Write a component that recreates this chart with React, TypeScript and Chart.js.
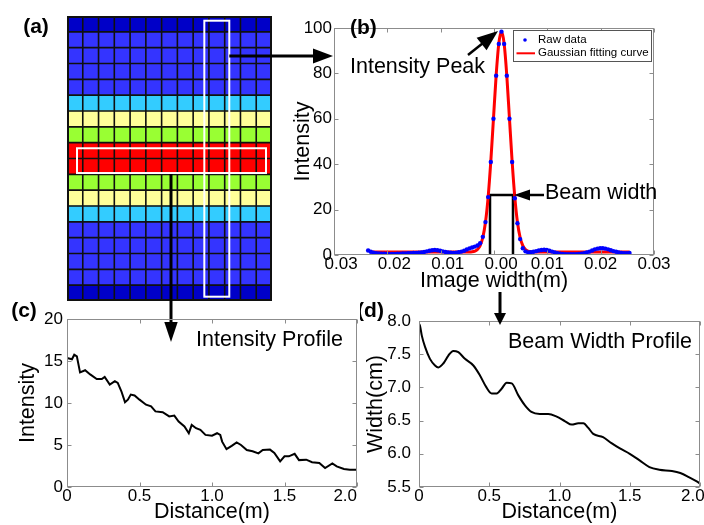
import { useEffect, useRef } from 'react';
import { Chart, registerables } from 'chart.js';

Chart.register(...registerables);

const FONT = 'Arial, "Liberation Sans", Helvetica, sans-serif';
const AXIS_GRAY = '#8c8c8c';
const TICK_SIZE = 17;
const TITLE_SIZE = 21.5;

// ---------- (a) intensity map ----------
const gridColumns = ['1', '2', '3', '4', '5', '6', '7', '8', '9', '10', '11', '12', '13'];
// colour level of each row, top to bottom
const rowLevels = [1, 2, 2, 2, 2, 3, 4, 5, 6, 6, 5, 4, 3, 2, 2, 2, 2, 1];
const levelColors = ['#ffffff', '#0000c8', '#3434ff', '#33ccff', '#ffff99', '#99ff33', '#ff0000'];
const highlightColumn = 9;
const highlightRows = [8, 9];

// ---------- (b) transverse profile ----------
const rawStart = -0.0236;
const rawStep = 0.0005;
const rawIntensity = [
  2.0, 1.4, 1.0, 0.8, 0.7, 0.6, 0.6, 0.5, 0.5, 0.5,
  0.5, 0.6, 0.6, 0.7, 0.7, 0.8, 0.8, 0.9, 0.9, 1.0,
  1.1, 1.3, 1.6, 1.9, 2.1, 2.2, 2.1, 1.9, 1.6, 1.3,
  1.1, 1.0, 0.9, 1.0, 1.2, 1.5, 1.9, 2.4, 2.9, 3.3,
  3.7, 4.2, 5.2, 8.0, 14.5, 25.5, 41.0, 60.0, 79.0, 93.0,
  98.4, 93.0, 79.0, 60.0, 41.0, 25.0, 14.0, 7.0, 3.0, 1.6,
  1.1, 1.2, 1.4, 1.7, 2.0, 2.2, 2.3, 2.2, 1.9, 1.5,
  1.1, 0.8, 0.6, 0.5, 0.4, 0.3, 0.3, 0.3, 0.4, 0.5,
  0.6, 0.8, 1.1, 1.5, 2.0, 2.5, 2.8, 3.0, 3.0, 2.8,
  2.5, 2.1, 1.7, 1.4, 1.1, 0.9, 0.8, 0.8, 0.9,
];
const fitIntensity = [
  null, 1.3, 1.3, 1.3, 1.3, 1.3, 1.3, 1.3, 1.3, 1.3,
  1.3, 1.3, 1.3, 1.3, 1.3, 1.3, 1.3, 1.3, 1.3, 1.3,
  1.3, 1.3, 1.3, 1.3, 1.3, 1.3, 1.3, 1.3, 1.3, 1.3,
  1.3, 1.3, 1.3, 1.3, 1.3, 1.3, 1.3, 1.3, 1.3, 1.4,
  1.7, 2.4, 4.1, 7.7, 14.4, 25.5, 41.2, 60.1, 79.0, 93.1,
  98.3, 93.1, 79.0, 60.1, 41.2, 25.5, 14.4, 7.7, 4.1, 2.4,
  1.7, 1.4, 1.3, 1.3, 1.3, 1.3, 1.3, 1.3, 1.3, 1.3,
  1.3, 1.3, 1.3, 1.3, 1.3, 1.3, 1.3, 1.3, 1.3, 1.3,
  1.3, 1.3, 1.3, 1.3, 1.3, 1.3, 1.3, 1.3, 1.3, 1.3,
  1.3, 1.3, 1.3, 1.3, 1.3, 1.3, 1.3, 1.3, 1.3,
];
const beamEdges = [-0.00075, 0.00356];
const beamLevel = 26.4;
const imageWidthTicks = [-0.03, -0.02, -0.01, 0, 0.01, 0.02, 0.03];
const intensityTicksB = [0, 20, 40, 60, 80, 100];

// ---------- (c) intensity along the path ----------
const distanceC = [
  0, 0.034, 0.05, 0.068, 0.09, 0.125, 0.16, 0.205, 0.24, 0.26,
  0.295, 0.33, 0.35, 0.375, 0.4, 0.42, 0.44, 0.466, 0.5, 0.545,
  0.58, 0.61, 0.66, 0.705, 0.74, 0.77, 0.81, 0.84, 0.86, 0.89,
  0.92, 0.955, 1.0, 1.035, 1.057, 1.07, 1.1, 1.136, 1.17, 1.2,
  1.24, 1.28, 1.32, 1.35, 1.4, 1.43, 1.47, 1.5, 1.53, 1.57,
  1.6, 1.65, 1.69, 1.74, 1.78, 1.83, 1.86, 1.91, 1.95, 1.98, 2.0,
];
const intensityC = [
  15.36, 15.2, 15.75, 15.55, 13.65, 13.9, 13.4, 12.85, 12.85, 13.1,
  12.2, 12.6, 12.4, 11.4, 10.1, 10.4, 11.0, 10.9, 10.4, 9.8,
  9.6, 9.0, 8.9, 8.4, 8.5, 7.8, 7.2, 6.4, 7.4, 7.0,
  6.8, 6.2, 6.1, 6.4, 6.2, 5.4, 4.5, 4.9, 5.3, 5.0,
  4.4, 4.25, 4.0, 4.4, 4.45, 4.05, 3.05, 3.65, 3.65, 3.95,
  3.2, 3.25, 2.95, 2.85, 2.25, 2.8, 2.45, 2.15, 2.05, 2.05, 2.05,
];
const distanceTicks = [0, 0.5, 1, 1.5, 2];
const intensityTicksC = [0, 5, 10, 15, 20];

// ---------- (d) beam width along the path ----------
const distanceD = [
  0, 0.007, 0.02, 0.043, 0.078, 0.114, 0.138, 0.173, 0.209, 0.244,
  0.28, 0.327, 0.387, 0.434, 0.48, 0.517, 0.553, 0.588, 0.624, 0.66,
  0.707, 0.754, 0.8, 0.86, 0.92, 0.98, 1.04, 1.087, 1.134, 1.17,
  1.205, 1.24, 1.31, 1.37, 1.43, 1.5, 1.57, 1.64, 1.71, 1.8,
  1.86, 1.92, 1.98, 2.0,
];
const widthD = [
  7.96, 7.93, 7.78, 7.61, 7.43, 7.33, 7.3, 7.36, 7.48, 7.55,
  7.53, 7.43, 7.33, 7.18, 7.0, 6.91, 6.91, 6.98, 7.07, 7.06,
  6.88, 6.73, 6.63, 6.6, 6.6, 6.56, 6.49, 6.44, 6.46, 6.46,
  6.39, 6.3, 6.25, 6.16, 6.08, 6.0, 5.9, 5.8, 5.76, 5.74,
  5.71, 5.65, 5.58, 5.55,
];
const widthTicksD = [5.5, 6, 6.5, 7, 7.5, 8];

// ---------- helpers ----------
const toPoints = (xs: number[], ys: (number | null)[]) =>
  xs.map((x, i) => ({ x, y: ys[i] })).filter((p) => p.y !== null);

function drawArrow(ctx: any, x1: number, y1: number, x2: number, y2: number, headLen: number, headHalf: number, lw: number) {
  const ang = Math.atan2(y2 - y1, x2 - x1);
  const bx = x2 - headLen * Math.cos(ang);
  const by = y2 - headLen * Math.sin(ang);
  ctx.save();
  ctx.strokeStyle = '#000';
  ctx.fillStyle = '#000';
  ctx.lineWidth = lw;
  ctx.beginPath();
  ctx.moveTo(x1, y1);
  ctx.lineTo(bx + Math.cos(ang), by + Math.sin(ang));
  ctx.stroke();
  ctx.beginPath();
  ctx.moveTo(x2, y2);
  ctx.lineTo(bx + headHalf * Math.sin(ang), by - headHalf * Math.cos(ang));
  ctx.lineTo(bx - headHalf * Math.sin(ang), by + headHalf * Math.cos(ang));
  ctx.closePath();
  ctx.fill();
  ctx.restore();
}

function drawText(ctx: any, str: string, x: number, y: number, size: number, align = 'left', bold = false) {
  ctx.save();
  ctx.font = `${bold ? 'bold ' : ''}${size}px ${FONT}`;
  ctx.fillStyle = '#000';
  ctx.textAlign = align;
  ctx.textBaseline = 'middle';
  ctx.fillText(str, x, y);
  ctx.restore();
}

const boxPlugin = {
  id: 'matlabBox',
  afterDraw(chart: any) {
    const { ctx, chartArea: a } = chart;
    const xs = chart.scales.x;
    const ys = chart.scales.y;
    const l = Math.round(a.left) + 0.5;
    const r = Math.round(a.right) - 0.5;
    const t = Math.round(a.top) + 0.5;
    const b = Math.round(a.bottom) - 0.5;
    ctx.save();
    ctx.strokeStyle = AXIS_GRAY;
    ctx.lineWidth = 1;
    ctx.strokeRect(l, t, r - l, b - t);
    ctx.beginPath();
    xs.ticks.forEach((tk: any) => {
      const p = Math.round(xs.getPixelForValue(tk.value)) + 0.5;
      ctx.moveTo(p, b);
      ctx.lineTo(p, b - 4);
      ctx.moveTo(p, t);
      ctx.lineTo(p, t + 4);
    });
    ys.ticks.forEach((tk: any) => {
      const p = Math.round(ys.getPixelForValue(tk.value)) + 0.5;
      ctx.moveTo(l, p);
      ctx.lineTo(l + 4, p);
      ctx.moveTo(r, p);
      ctx.lineTo(r - 4, p);
    });
    ctx.stroke();
    ctx.restore();
  },
};

function axis(kind: 'x' | 'y', o: any) {
  return {
    type: 'linear',
    min: o.min,
    max: o.max,
    afterBuildTicks: (s: any) => {
      s.ticks = o.ticks.map((v: number) => ({ value: v }));
    },
    afterFit: (s: any) => {
      if (kind === 'x') {
        s.height = o.size;
        s.paddingLeft = 0;
        s.paddingRight = 0;
      } else {
        s.width = o.size;
        s.paddingTop = 0;
        s.paddingBottom = 0;
      }
    },
    grid: { display: false, drawTicks: false },
    border: { display: false },
    ticks: {
      color: '#000',
      font: { family: FONT, size: TICK_SIZE, lineHeight: 1 },
      padding: o.tickPad,
      autoSkip: false,
      maxRotation: 0,
      callback: (v: number) => o.format(v),
    },
    title: {
      display: true,
      text: o.title,
      color: '#000',
      font: { family: FONT, size: TITLE_SIZE, lineHeight: 1.2 },
      padding: kind === 'x' ? { top: 0, bottom: o.titlePad } : { top: o.titlePad, bottom: 0 },
    },
  };
}

const baseOptions = {
  responsive: false,
  animation: false,
  events: [],
  plugins: { legend: { display: false }, tooltip: { enabled: false } },
};

// ---------- chart configs ----------
function makeA(): any {
  return {
    type: 'bar',
    data: {
      labels: gridColumns,
      datasets: [...rowLevels].reverse().map((level) => ({
        data: gridColumns.map(() => 1),
        backgroundColor: levelColors[level],
        borderWidth: 0,
        barPercentage: 1,
        categoryPercentage: 1,
      })),
    },
    options: {
      ...baseOptions,
      layout: { padding: { left: 67, top: 16, right: 73, bottom: 49 } },
      scales: {
        x: { display: false, stacked: true },
        y: { display: false, stacked: true, min: 0, max: rowLevels.length },
      },
    },
    plugins: [
      {
        id: 'annA',
        afterDraw(chart: any) {
          const { ctx, chartArea: a } = chart;
          const cw = (a.right - a.left) / gridColumns.length;
          const rh = (a.bottom - a.top) / rowLevels.length;
          ctx.save();
          // cell grid
          ctx.strokeStyle = '#101010';
          ctx.lineWidth = 1.6;
          ctx.beginPath();
          for (let i = 1; i < gridColumns.length; i++) {
            const x = a.left + i * cw;
            ctx.moveTo(x, a.top);
            ctx.lineTo(x, a.bottom);
          }
          for (let j = 1; j < rowLevels.length; j++) {
            const y = a.top + j * rh;
            ctx.moveTo(a.left, y);
            ctx.lineTo(a.right, y);
          }
          ctx.stroke();
          ctx.lineWidth = 2;
          ctx.strokeRect(a.left + 1, a.top + 1, a.right - a.left - 2, a.bottom - a.top - 2);
          // highlighted column and rows
          ctx.strokeStyle = '#ffffff';
          ctx.lineWidth = 2;
          const vx1 = a.left + highlightColumn * cw - 4.6;
          const vx2 = a.left + (highlightColumn + 1) * cw + 4.6;
          ctx.strokeRect(vx1, a.top + 4.7, vx2 - vx1, a.bottom - a.top - 9);
          const hy1 = a.top + highlightRows[0] * rh + 5.6;
          const hy2 = a.top + (highlightRows[1] + 1) * rh - 1.3;
          ctx.strokeRect(a.left + 10, hy1, a.right - a.left - 16, hy2 - hy1);
          ctx.restore();
          drawArrow(ctx, vx2, 56, 333, 56, 20, 7.5, 3);
          drawArrow(ctx, 171, hy2 + 1, 171, 342, 20, 6.7, 3);
          drawText(ctx, '(a)', 36, 27, 21, 'center', true);
        },
      },
    ],
  };
}

function makeB(): any {
  const rawPoints = toPoints(rawIntensity.map((_, i) => rawStart + i * rawStep), rawIntensity);
  const fitPoints = toPoints(fitIntensity.map((_, i) => rawStart + i * rawStep), fitIntensity);
  const beamPoints = [
    { x: beamEdges[0], y: 0 },
    { x: beamEdges[0], y: beamLevel },
    { x: beamEdges[1], y: beamLevel },
    { x: beamEdges[1], y: 0 },
  ];
  return {
    type: 'line',
    data: {
      datasets: [
        {
          label: 'Raw data',
          data: rawPoints,
          showLine: false,
          pointRadius: 2.2,
          pointBackgroundColor: '#0000ff',
          pointBorderWidth: 0,
          borderColor: '#0000ff',
          order: 0,
        },
        {
          label: 'Gaussian fitting curve',
          data: fitPoints,
          borderColor: '#ff0000',
          borderWidth: 3,
          pointRadius: 0,
          cubicInterpolationMode: 'monotone',
          order: 1,
        },
        {
          label: 'Beam width',
          data: beamPoints,
          borderColor: '#000',
          borderWidth: 2.5,
          pointRadius: 0,
          tension: 0,
          order: 2,
        },
      ],
    },
    options: {
      ...baseOptions,
      layout: { padding: { left: 0, top: 28, right: 50, bottom: 0 } },
      scales: {
        x: axis('x', {
          min: -0.03, max: 0.03, ticks: imageWidthTicks, size: 45, tickPad: 1,
          format: (v: number) => (v <= 0 ? '   ' : '') + Math.abs(v).toFixed(2),
          title: 'Image width(m)', titlePad: 6,
        }),
        y: axis('y', {
          min: 0, max: 100, ticks: intensityTicksB, size: 46, tickPad: 2,
          format: (v: number) => String(v),
          title: 'Intensity', titlePad: 2.6,
        }),
      },
    },
    plugins: [
      boxPlugin,
      {
        id: 'annB',
        afterDraw(chart: any) {
          const { ctx } = chart;
          drawText(ctx, '(b)', 62, 28.5, 21, 'left', true);
          drawText(ctx, 'Intensity Peak', 62, 67, TITLE_SIZE);
          drawArrow(ctx, 180, 55, 210, 31, 21, 8, 2.5);
          drawText(ctx, 'Beam width', 257, 193.5, TITLE_SIZE);
          drawArrow(ctx, 256, 195, 226, 195, 16, 5.5, 2.5);
          // legend
          ctx.save();
          ctx.fillStyle = '#ffffff';
          ctx.fillRect(225.5, 30.5, 138, 31);
          ctx.strokeStyle = '#555';
          ctx.lineWidth = 1;
          ctx.strokeRect(225.5, 30.5, 138, 31);
          ctx.fillStyle = '#0000ff';
          ctx.beginPath();
          ctx.arc(237, 40, 1.8, 0, Math.PI * 2);
          ctx.fill();
          ctx.strokeStyle = '#ff0000';
          ctx.lineWidth = 2;
          ctx.beginPath();
          ctx.moveTo(228.5, 53.3);
          ctx.lineTo(247, 53.3);
          ctx.stroke();
          ctx.restore();
          drawText(ctx, 'Raw data', 250, 40, 11.5);
          drawText(ctx, 'Gaussian fitting curve', 250, 53.3, 11.5);
        },
      },
    ],
  };
}

function makeC(): any {
  return {
    type: 'line',
    data: {
      datasets: [
        {
          label: 'Intensity Profile',
          data: toPoints(distanceC, intensityC),
          borderColor: '#000',
          borderWidth: 2,
          pointRadius: 0,
          tension: 0,
        },
      ],
    },
    options: {
      ...baseOptions,
      layout: { padding: { left: 0, top: 19, right: 8, bottom: 0 } },
      scales: {
        x: axis('x', {
          min: 0, max: 2, ticks: distanceTicks, size: 38, tickPad: 1,
          format: (v: number) => (v === 0 ? '0' : v.toFixed(1) + (v === 2 ? '     ' : '')),
          title: 'Distance(m)', titlePad: 0,
        }),
        y: axis('y', {
          min: 0, max: 20, ticks: intensityTicksC, size: 67, tickPad: 4,
          format: (v: number) => String(v),
          title: 'Intensity', titlePad: 15,
        }),
      },
    },
    plugins: [
      boxPlugin,
      {
        id: 'annC',
        afterDraw(chart: any) {
          const { ctx } = chart;
          drawText(ctx, '(c)', 24, 11.5, 21, 'center', true);
          drawText(ctx, 'Intensity Profile', 343, 40, TITLE_SIZE, 'right');
        },
      },
    ],
  };
}

function makeD(): any {
  return {
    type: 'line',
    data: {
      datasets: [
        {
          label: 'Beam Width Profile',
          data: toPoints(distanceD, widthD),
          borderColor: '#000',
          borderWidth: 2,
          pointRadius: 0,
          cubicInterpolationMode: 'monotone',
        },
      ],
    },
    options: {
      ...baseOptions,
      layout: { padding: { left: 0, top: 31, right: 4, bottom: 0 } },
      scales: {
        x: axis('x', {
          min: 0, max: 2, ticks: distanceTicks, size: 38, tickPad: 1,
          format: (v: number) => (v === 0 ? '0' : v.toFixed(1) + (v === 2 ? '   ' : '')),
          title: 'Distance(m)', titlePad: 0,
        }),
        y: axis('y', {
          min: 5.5, max: 8, ticks: widthTicksD, size: 59, tickPad: 8,
          format: (v: number) => v.toFixed(1),
          title: 'Width(cm)', titlePad: 3.1,
        }),
      },
    },
    plugins: [
      boxPlugin,
      {
        id: 'annD',
        afterDraw(chart: any) {
          const { ctx } = chart;
          drawText(ctx, '(d)', 10.5, 21, 21, 'center', true);
          drawText(ctx, 'Beam Width Profile', 332, 52, TITLE_SIZE, 'right');
          drawArrow(ctx, 140, 2, 140, 35, 12, 6, 3);
        },
      },
    ],
  };
}

function ChartCanvas({ left, top, width, height, make }: any) {
  const ref = useRef<HTMLCanvasElement>(null);
  useEffect(() => {
    const chart = new Chart(ref.current as HTMLCanvasElement, make());
    return () => chart.destroy();
  }, []);
  return (
    <canvas
      ref={ref}
      width={width}
      height={height}
      style={{ position: 'absolute', left, top, width, height }}
    />
  );
}

export default function App() {
  return (
    <div
      style={{
        position: 'fixed',
        left: 0,
        top: 0,
        width: 704,
        height: 525,
        background: '#ffffff',
        overflow: 'hidden',
      }}
    >
      <ChartCanvas left={0} top={0} width={345} height={350} make={makeA} />
      <ChartCanvas left={288} top={0} width={416} height={300} make={makeB} />
      <ChartCanvas left={0} top={300} width={365} height={225} make={makeC} />
      <ChartCanvas left={360} top={290} width={344} height={235} make={makeD} />
    </div>
  );
}
